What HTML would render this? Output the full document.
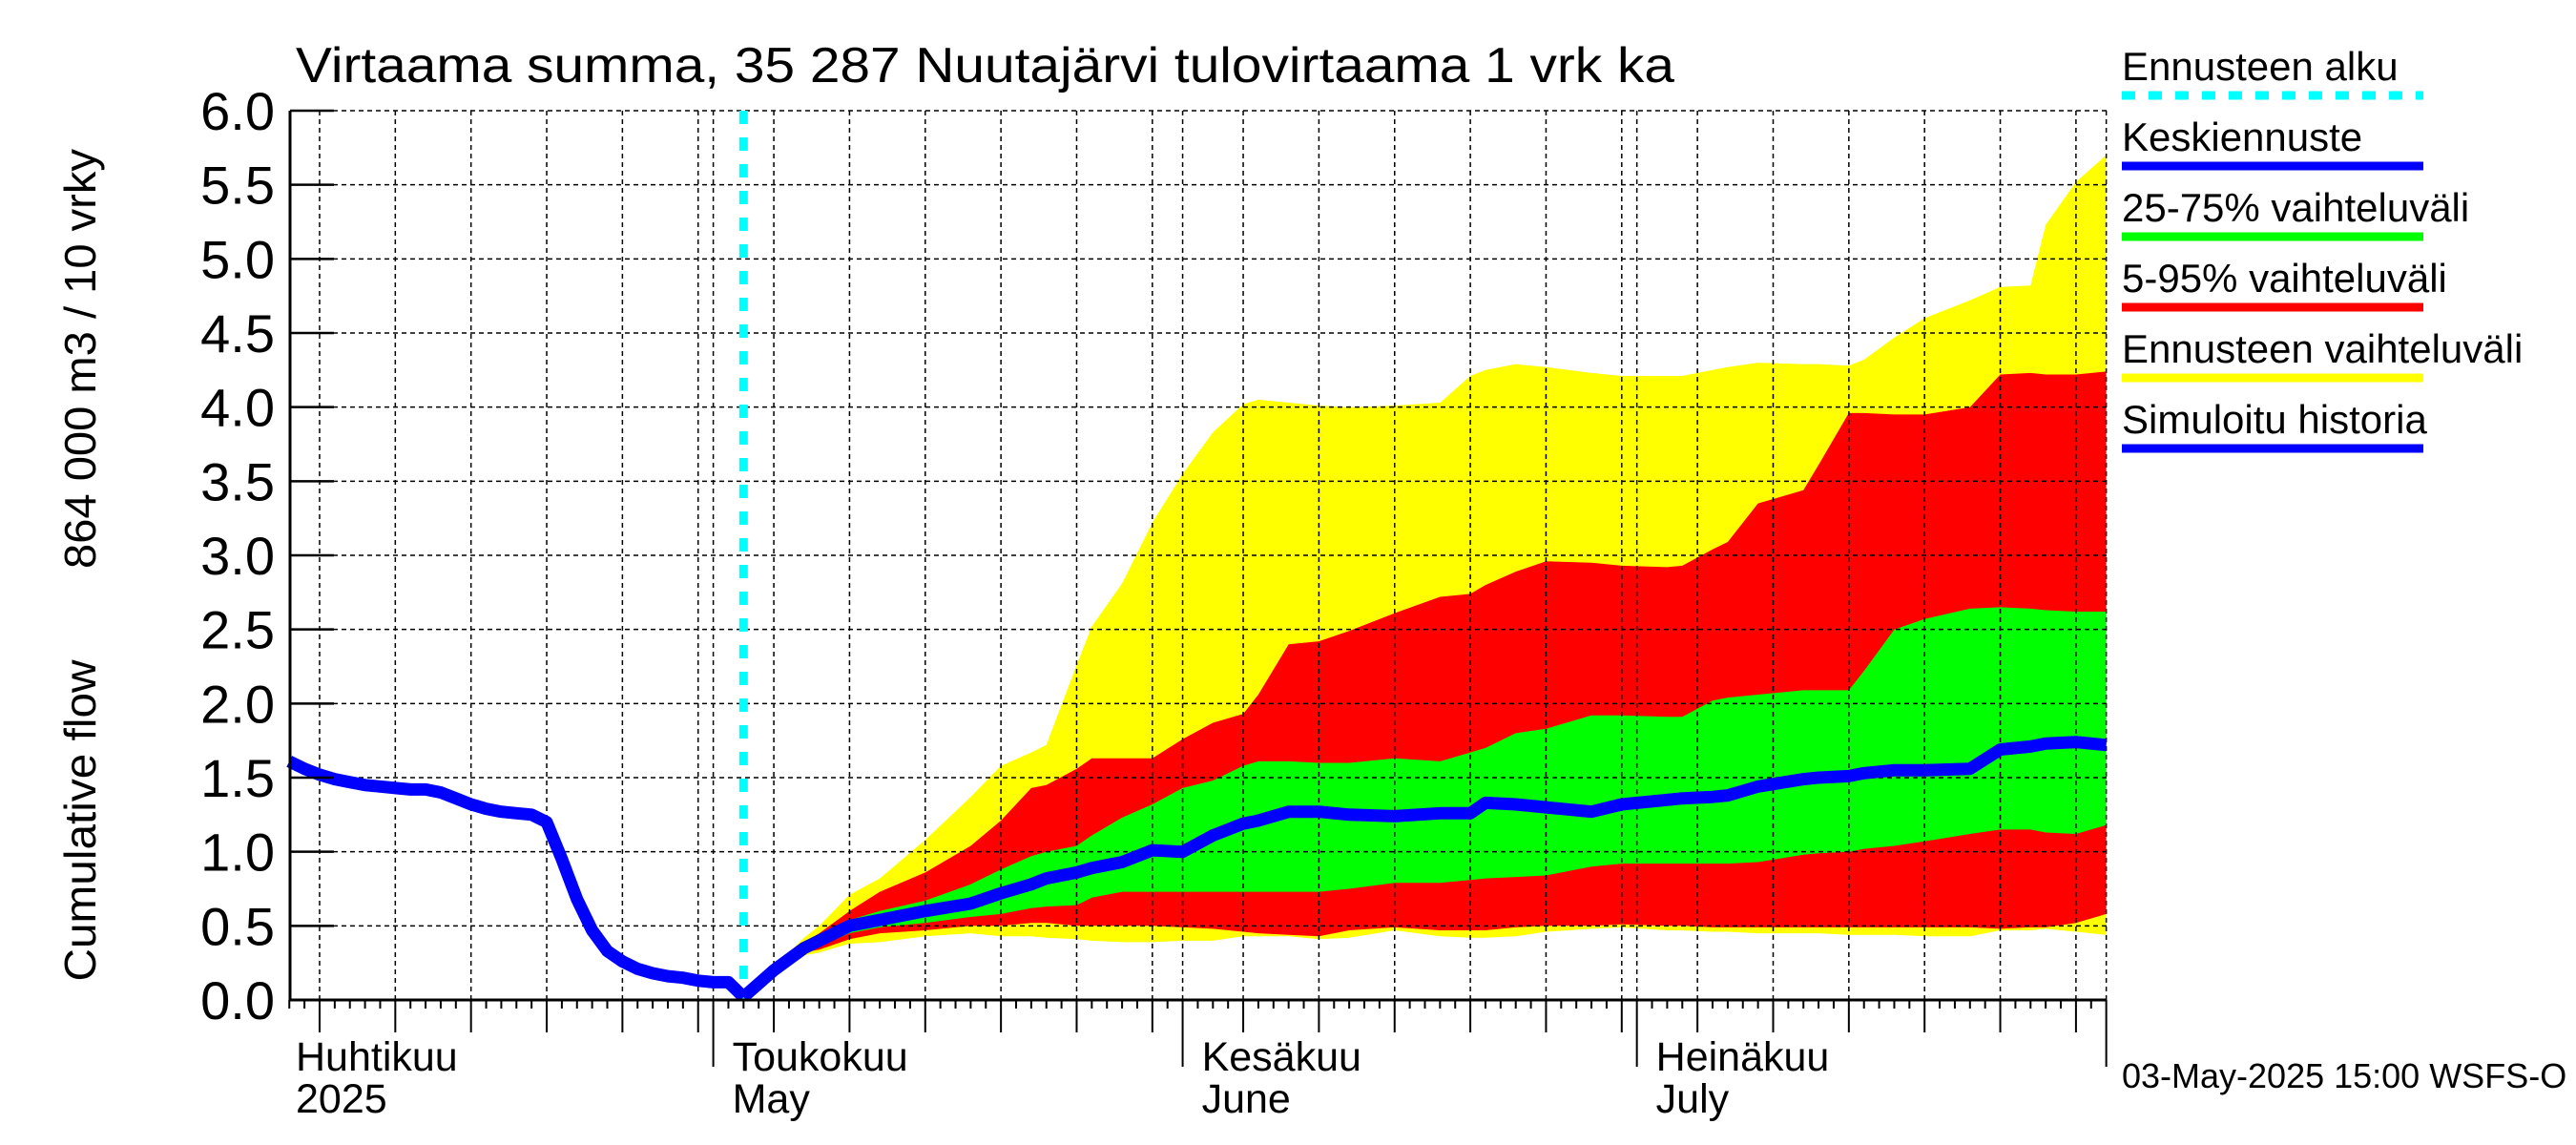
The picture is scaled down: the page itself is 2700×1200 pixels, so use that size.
<!DOCTYPE html>
<html><head><meta charset="utf-8"><style>
html,body{margin:0;padding:0;background:#fff;}
svg{display:block;font-family:"Liberation Sans",Arial,sans-serif;}
</style></head><body>
<svg id="chart" width="2700" height="1200" viewBox="0 0 2700 1200" xmlns="http://www.w3.org/2000/svg">
<rect x="0" y="0" width="2700" height="1200" fill="#fff"/>
<text x="310" y="86" font-size="52" textLength="1445" lengthAdjust="spacingAndGlyphs">Virtaama summa, 35 287 Nuutajärvi tulovirtaama 1 vrk ka</text>
<text transform="translate(100,376) rotate(-90)" text-anchor="middle" font-size="46" textLength="440" lengthAdjust="spacingAndGlyphs">864 000 m3 / 10 vrky</text>
<text transform="translate(100,860) rotate(-90)" text-anchor="middle" font-size="46" textLength="337" lengthAdjust="spacingAndGlyphs">Cumulative flow</text>
<g id="bands"></g>
<g id="grid"></g>
<g id="lines"></g>
<g id="axes"></g>
<g id="legend"></g>
<text x="2224" y="1140" font-size="36">03-May-2025 15:00 WSFS-O</text>
</svg>
<script>
// data (days since 1 Apr 2025)
const histDays = [2,3,4,5,6,7,8,9,10,11,12,13,14,15,16,17,18,19,20,21,22,23,24,25,26,27,28,29,30,31,32];
const histValues = [1.61,1.56,1.52,1.49,1.47,1.45,1.44,1.43,1.42,1.42,1.40,1.36,1.32,1.29,1.27,1.26,1.25,1.20,0.95,0.68,0.47,0.33,0.26,0.21,0.18,0.16,0.15,0.13,0.12,0.12,0.02];
const fcDays = [32,34,36,37,39,41,44,47,49,51,52,54,55,57,59,61,63,65,66,68,70,72,75,78,80,81,83,85,88,90,93,94,96,97,99,102,103,105,106,108,110,113,115,117,118,120,122];
const yellowHi = [0.02,0.22,0.42,0.50,0.71,0.82,1.08,1.37,1.58,1.67,1.72,2.26,2.52,2.81,3.22,3.55,3.83,4.02,4.05,4.03,4.01,4.00,4.01,4.03,4.21,4.25,4.29,4.27,4.23,4.21,4.21,4.21,4.25,4.27,4.30,4.29,4.29,4.28,4.32,4.47,4.60,4.72,4.81,4.82,5.23,5.52,5.70];
const redHi = [0.02,0.21,0.39,0.45,0.60,0.73,0.86,1.04,1.21,1.43,1.45,1.56,1.63,1.63,1.63,1.76,1.87,1.93,2.06,2.40,2.42,2.49,2.61,2.72,2.74,2.80,2.89,2.96,2.95,2.93,2.92,2.93,3.04,3.09,3.35,3.44,3.61,3.96,3.96,3.95,3.95,4.00,4.22,4.23,4.22,4.22,4.24];
const greenHi = [0.02,0.21,0.36,0.41,0.54,0.60,0.67,0.78,0.88,0.97,1.00,1.04,1.11,1.23,1.32,1.43,1.48,1.58,1.61,1.61,1.60,1.60,1.63,1.61,1.67,1.70,1.80,1.83,1.92,1.92,1.91,1.91,2.02,2.04,2.06,2.09,2.09,2.09,2.22,2.50,2.57,2.64,2.65,2.64,2.63,2.62,2.62];
const meanValues = [0.02,0.20,0.35,0.40,0.50,0.54,0.60,0.65,0.72,0.78,0.82,0.86,0.89,0.93,1.01,1.00,1.11,1.19,1.21,1.27,1.27,1.25,1.24,1.26,1.26,1.33,1.32,1.30,1.27,1.32,1.35,1.36,1.37,1.38,1.44,1.49,1.50,1.51,1.53,1.55,1.55,1.56,1.69,1.71,1.73,1.74,1.72];
const greenLo = [0.02,0.20,0.33,0.36,0.45,0.49,0.52,0.56,0.58,0.62,0.63,0.64,0.69,0.73,0.73,0.73,0.73,0.73,0.73,0.73,0.73,0.75,0.79,0.79,0.81,0.82,0.83,0.84,0.90,0.92,0.92,0.92,0.92,0.92,0.93,0.98,0.99,1.00,1.02,1.04,1.07,1.12,1.15,1.15,1.13,1.12,1.18];
const redLo = [0.02,0.19,0.32,0.34,0.41,0.45,0.47,0.50,0.50,0.52,0.52,0.50,0.50,0.50,0.50,0.49,0.48,0.46,0.45,0.44,0.43,0.47,0.49,0.47,0.47,0.47,0.49,0.50,0.50,0.51,0.50,0.50,0.49,0.49,0.49,0.49,0.49,0.49,0.49,0.49,0.49,0.49,0.48,0.49,0.49,0.52,0.58];
const yellowLo = [0.02,0.19,0.30,0.32,0.38,0.39,0.43,0.45,0.43,0.43,0.42,0.41,0.40,0.39,0.39,0.40,0.40,0.43,0.43,0.43,0.41,0.42,0.47,0.43,0.42,0.42,0.43,0.46,0.48,0.49,0.47,0.47,0.46,0.46,0.45,0.45,0.45,0.44,0.44,0.44,0.43,0.43,0.47,0.47,0.48,0.46,0.44];
const yTicks = ["0.0","0.5","1.0","1.5","2.0","2.5","3.0","3.5","4.0","4.5","5.0","5.5","6.0"];
const monthStarts = [0,30,61,91,122];
const monthFi = ["Huhtikuu","Toukokuu","Kesäkuu","Heinäkuu"];
const monthEn = ["2025","May","June","July"];
const forecastStartDay = 32;

const NS = "http://www.w3.org/2000/svg";
const L = 304, R = 2208, T = 116, B = 1048;
const X0 = 271.5, PXD = 15.87;
const xs = d => X0 + d * PXD;
const ys = v => B - v * (B - T) / 6;
function mk(tag, attrs, parent){
  const e = document.createElementNS(NS, tag);
  for (const k in attrs) e.setAttribute(k, attrs[k]);
  parent.appendChild(e); return e;
}
const bands = document.getElementById('bands');
const grid = document.getElementById('grid');
const lines = document.getElementById('lines');
const axes = document.getElementById('axes');
const legend = document.getElementById('legend');

function bandPath(hi, lo){
  let p = '';
  fcDays.forEach((d,i)=>{ p += (i?'L':'M') + xs(d).toFixed(1) + ',' + ys(hi[i]).toFixed(1); });
  for (let i = fcDays.length-1; i >= 0; i--) p += 'L' + xs(fcDays[i]).toFixed(1) + ',' + ys(lo[i]).toFixed(1);
  return p + 'Z';
}
const by = mk('path',{d:bandPath(yellowHi,yellowLo),fill:'#ffff00'},bands);


const br = mk('path',{d:bandPath(redHi,redLo),fill:'#ff0000'},bands);


const bg = mk('path',{d:bandPath(greenHi,greenLo),fill:'#00ff00'},bands);



// horizontal grid + y labels
yTicks.forEach((t,i)=>{
  const v = parseFloat(t), y = ys(v);
  if (i>0){
    const g = mk('line',{x1:L,x2:R,y1:y,y2:y,stroke:'#000','stroke-width':1.5,'stroke-dasharray':'5,4'},grid);
    
    
  }
  const tk = mk('line',{x1:L,x2:L+46,y1:y,y2:y,stroke:'#000','stroke-width':2.5},axes);
  
  
  const lb = mk('text',{x:288,y:y+20,'font-size':56,'text-anchor':'end'},axes);
  lb.textContent = t;
  
  
});

// vertical grid & x ticks
const dim = [30,31,30,31];
const gridDays = [];
for (let m=0;m<4;m++){
  [5,10,15,20,25,30].forEach(k=>{ if (k<=dim[m]) gridDays.push(monthStarts[m]+k-1); });
}
monthStarts.forEach(d=>{ if (xs(d)>=L) gridDays.push(d); });
gridDays.forEach(d=>{
  const x = xs(d); if (x < L-1 || x > R+1) return;
  const g = mk('line',{x1:x,x2:x,y1:T,y2:B,stroke:'#000','stroke-width':1.5,'stroke-dasharray':'5,4'},grid);
  
  
});
for (let d=0; d<=122; d++){
  const x = xs(d); if (x < L-1 || x > R+1) continue;
  let len = 9;
  if (gridDays.includes(d)) len = 34;
  if (monthStarts.includes(d)) len = 70;
  const tk = mk('line',{x1:x,x2:x,y1:B,y2:B+len,stroke:'#000','stroke-width':2},axes);
  
  
}
monthFi.forEach((m,i)=>{
  const x = i===0 ? 310 : xs(monthStarts[i]) + 20;
  const t1 = mk('text',{x:x,y:1122,'font-size':43},axes);
  t1.textContent = m;
  
  
  const t2 = mk('text',{x:x,y:1166,'font-size':43},axes);
  t2.textContent = monthEn[i];
  
  
});
const ax1 = mk('line',{x1:L,x2:L,y1:T,y2:B+1,stroke:'#000','stroke-width':3},axes);


const ax2 = mk('line',{x1:L,x2:R,y1:B,y2:B,stroke:'#000','stroke-width':3},axes);



// forecast start line
const cs = mk('line',{x1:xs(forecastStartDay),x2:xs(forecastStartDay),y1:T,y2:B,stroke:'#00ffff','stroke-width':9,'stroke-dasharray':'14,14'},lines);



// history + mean lines
let ph = '';
histDays.forEach((d,i)=>{ ph += (i?'L':'M') + xs(d).toFixed(1) + ',' + ys(histValues[i]).toFixed(1); });
const hl = mk('path',{d:ph,fill:'none',stroke:'#0000ff','stroke-width':13,'stroke-linejoin':'round'},lines);


let pm = '';
fcDays.forEach((d,i)=>{ pm += (i?'L':'M') + xs(d).toFixed(1) + ',' + ys(meanValues[i]).toFixed(1); });
const ml = mk('path',{d:pm,fill:'none',stroke:'#0000ff','stroke-width':13,'stroke-linejoin':'round'},lines);



// legend
const legItems = [
  ["Ennusteen alku","#00ffff",true],
  ["Keskiennuste","#0000ff",false],
  ["25-75% vaihteluväli","#00ff00",false],
  ["5-95% vaihteluväli","#ff0000",false],
  ["Ennusteen vaihteluväli","#ffff00",false],
  ["Simuloitu historia","#0000ff",false]
];
legItems.forEach((it,i)=>{
  const y0 = 84 + i*74;
  const t = mk('text',{x:2224,y:y0,'font-size':42},legend);
  t.textContent = it[0];
  
  
  const a = {x1:2224,x2:2540,y1:y0+16,y2:y0+16,stroke:it[1],'stroke-width':9};
  if (it[2]) a['stroke-dasharray'] = '14,14';
  const ln = mk('line',a,legend);
  
  
});
</script>
</body></html>
